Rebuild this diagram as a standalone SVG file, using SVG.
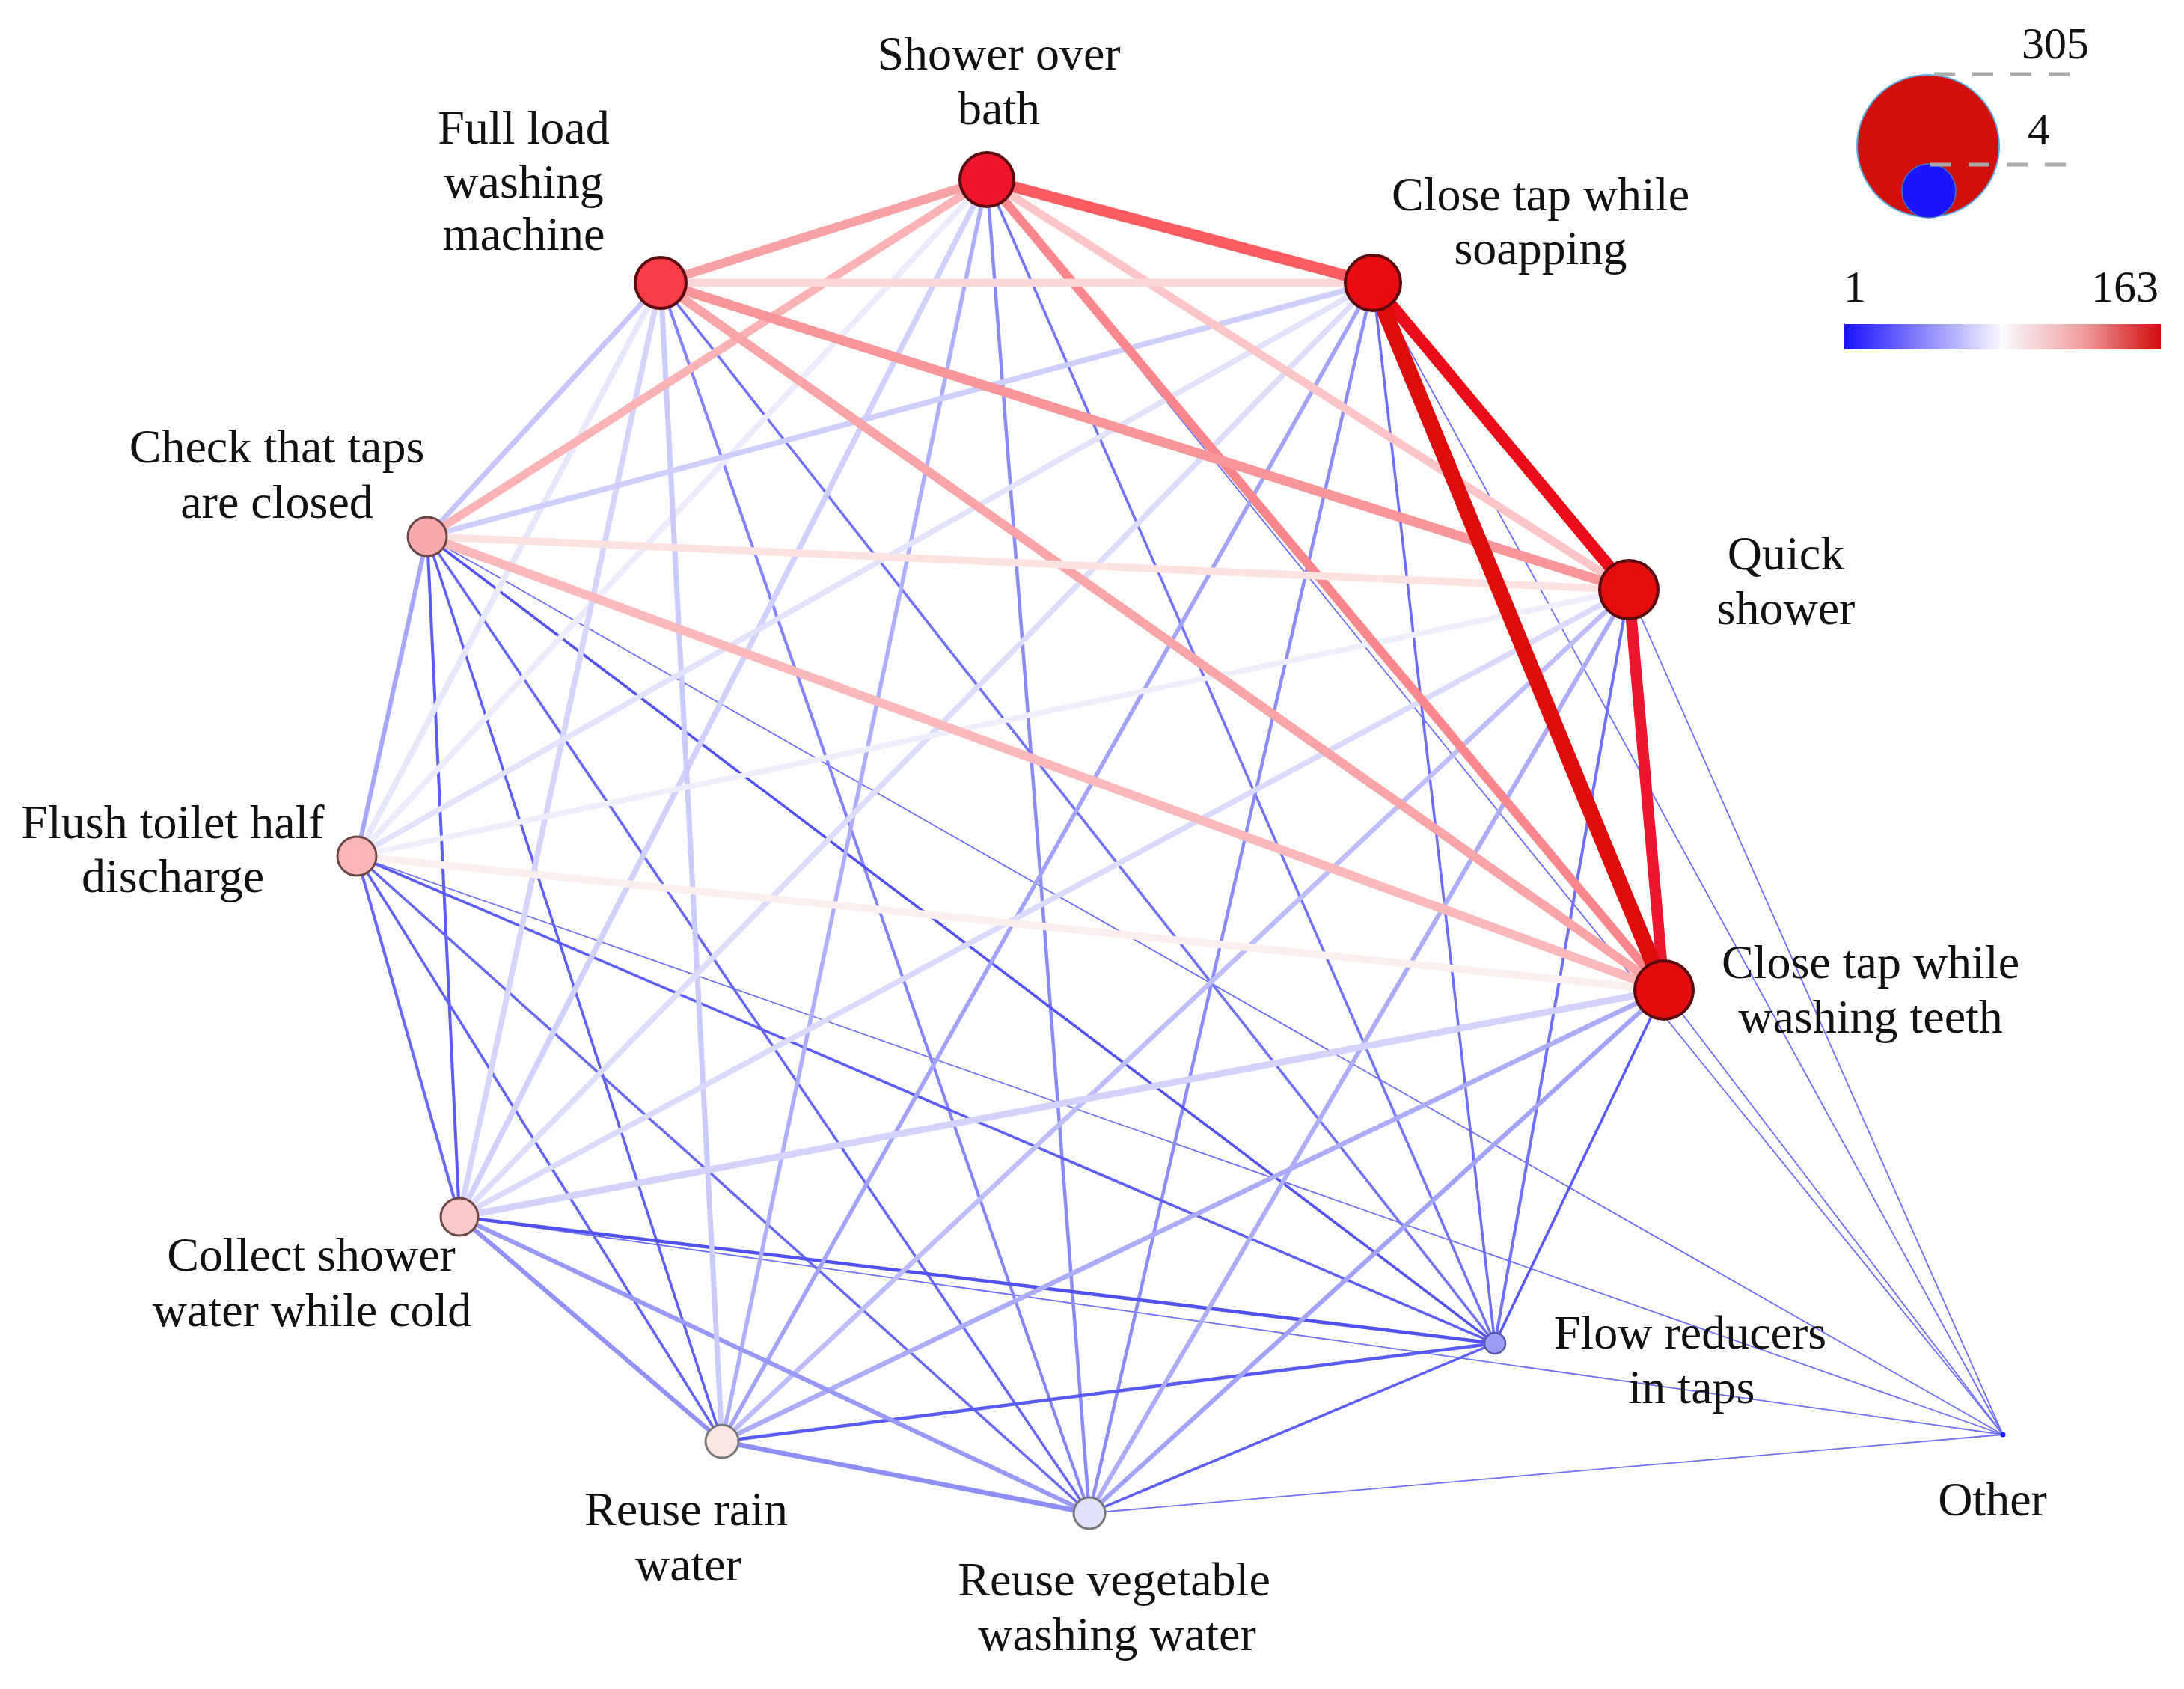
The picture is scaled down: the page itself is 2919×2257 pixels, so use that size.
<svg xmlns="http://www.w3.org/2000/svg" width="2919" height="2257" viewBox="0 0 2919 2257">
<defs>
<linearGradient id="scale" x1="0" y1="0" x2="1" y2="0">
<stop offset="0" stop-color="#1a12ff"/>
<stop offset="0.25" stop-color="#8a86fb"/>
<stop offset="0.5" stop-color="#fbfaff"/>
<stop offset="0.75" stop-color="#f1a0a0"/>
<stop offset="1" stop-color="#d20c0c"/>
</linearGradient>
<style>
.lbl{font-family:"Liberation Serif","Times New Roman",serif;font-size:64px;fill:#111;text-anchor:middle}
.num{font-family:"Liberation Serif","Times New Roman",serif;font-size:60px;fill:#111}
#edges line{fill:none;stroke-linecap:butt}
.red{stroke:#5c0a0e;stroke-width:4}
.pink{stroke:#6e4646;stroke-width:3}
.pale{stroke:#777;stroke-width:3}
.dash{stroke:#aaaaaa;stroke-width:5;stroke-dasharray:28 23}
</style>
</defs>
<rect width="2919" height="2257" fill="#ffffff"/>

<g id="edges">
<!-- Other links -->
<g stroke="#6e6eff" stroke-width="1.8">
<line x1="1319" y1="240" x2="2677" y2="1917"/>
<line x1="1835" y1="378" x2="2677" y2="1917"/>
<line x1="571" y1="717" x2="2677" y2="1917"/>
<line x1="2177" y1="788" x2="2677" y2="1917"/>
<line x1="477" y1="1144" x2="2677" y2="1917"/>
<line x1="2224" y1="1323" x2="2677" y2="1917"/>
<line x1="614" y1="1626" x2="2677" y2="1917"/>
<line x1="1456" y1="2022" x2="2677" y2="1917"/>
</g>
<!-- blue -->
<line x1="1319" y1="240" x2="1998" y2="1795" stroke="#7272f8" stroke-width="3.5"/>
<line x1="1319" y1="240" x2="1456" y2="2022" stroke="#8a8af8" stroke-width="4.5"/>
<line x1="883" y1="378" x2="1998" y2="1795" stroke="#7070f8" stroke-width="3.5"/>
<line x1="883" y1="378" x2="1456" y2="2022" stroke="#8484f8" stroke-width="4"/>
<line x1="1835" y1="378" x2="1998" y2="1795" stroke="#6c6cf8" stroke-width="3.5"/>
<line x1="1835" y1="378" x2="1456" y2="2022" stroke="#8c8cf8" stroke-width="4.5"/>
<line x1="571" y1="717" x2="614" y2="1626" stroke="#5c5cf6" stroke-width="4"/>
<line x1="571" y1="717" x2="1998" y2="1795" stroke="#5050f4" stroke-width="3.5"/>
<line x1="571" y1="717" x2="965" y2="1926" stroke="#5e5ef6" stroke-width="3.5"/>
<line x1="571" y1="717" x2="1456" y2="2022" stroke="#6666f6" stroke-width="3.5"/>
<line x1="2177" y1="788" x2="1998" y2="1795" stroke="#7070f8" stroke-width="4"/>
<line x1="477" y1="1144" x2="614" y2="1626" stroke="#6a6af8" stroke-width="4"/>
<line x1="477" y1="1144" x2="1998" y2="1795" stroke="#5c5cf6" stroke-width="3.5"/>
<line x1="477" y1="1144" x2="965" y2="1926" stroke="#6262f6" stroke-width="3.5"/>
<line x1="477" y1="1144" x2="1456" y2="2022" stroke="#6868f6" stroke-width="3.5"/>
<line x1="2224" y1="1323" x2="1998" y2="1795" stroke="#5858f6" stroke-width="3.5"/>
<line x1="614" y1="1626" x2="1998" y2="1795" stroke="#5252f4" stroke-width="4.5"/>
<line x1="965" y1="1926" x2="1998" y2="1795" stroke="#5a5af6" stroke-width="4.5"/>
<line x1="1456" y1="2022" x2="1998" y2="1795" stroke="#5c5cf6" stroke-width="3.5"/>
<!-- mid lavender-blue -->
<line x1="1319" y1="240" x2="965" y2="1926" stroke="#aeaefb" stroke-width="5.5"/>
<line x1="1835" y1="378" x2="965" y2="1926" stroke="#a2a2fa" stroke-width="5.5"/>
<line x1="571" y1="717" x2="477" y2="1144" stroke="#a6a6fa" stroke-width="6"/>
<line x1="2177" y1="788" x2="965" y2="1926" stroke="#bdbdfb" stroke-width="6.5"/>
<line x1="2177" y1="788" x2="1456" y2="2022" stroke="#acacfa" stroke-width="6"/>
<line x1="2224" y1="1323" x2="965" y2="1926" stroke="#acacfa" stroke-width="6.5"/>
<line x1="2224" y1="1323" x2="1456" y2="2022" stroke="#a2a2fa" stroke-width="6"/>
<line x1="614" y1="1626" x2="965" y2="1926" stroke="#9090f8" stroke-width="6"/>
<line x1="614" y1="1626" x2="1456" y2="2022" stroke="#9898f8" stroke-width="6"/>
<line x1="965" y1="1926" x2="1456" y2="2022" stroke="#8e8ef8" stroke-width="6.5"/>
<!-- light lavender -->
<line x1="1319" y1="240" x2="477" y2="1144" stroke="#ececfd" stroke-width="8"/>
<line x1="1319" y1="240" x2="614" y2="1626" stroke="#d0d0fc" stroke-width="7.5"/>
<line x1="883" y1="378" x2="571" y2="717" stroke="#c4c4fb" stroke-width="7"/>
<line x1="883" y1="378" x2="477" y2="1144" stroke="#e8e8fd" stroke-width="8"/>
<line x1="883" y1="378" x2="614" y2="1626" stroke="#d4d4fc" stroke-width="7.5"/>
<line x1="883" y1="378" x2="965" y2="1926" stroke="#cacafc" stroke-width="7"/>
<line x1="1835" y1="378" x2="571" y2="717" stroke="#cecefc" stroke-width="7.5"/>
<line x1="1835" y1="378" x2="477" y2="1144" stroke="#e2e2fd" stroke-width="7.5"/>
<line x1="1835" y1="378" x2="614" y2="1626" stroke="#dcdcfd" stroke-width="7.5"/>
<line x1="2177" y1="788" x2="477" y2="1144" stroke="#eeeefd" stroke-width="7.5"/>
<line x1="2177" y1="788" x2="614" y2="1626" stroke="#dadafd" stroke-width="7.5"/>
<line x1="2224" y1="1323" x2="614" y2="1626" stroke="#d2d2fc" stroke-width="9"/>
<!-- pinks -->
<line x1="1319" y1="240" x2="883" y2="378" stroke="#f9a2a5" stroke-width="12"/>
<line x1="1319" y1="240" x2="571" y2="717" stroke="#fbb2b4" stroke-width="11"/>
<line x1="1319" y1="240" x2="2177" y2="788" stroke="#fcc4c6" stroke-width="11"/>
<line x1="1319" y1="240" x2="2224" y2="1323" stroke="#f8868a" stroke-width="12"/>
<line x1="883" y1="378" x2="1835" y2="378" stroke="#fdd6d8" stroke-width="11"/>
<line x1="883" y1="378" x2="2177" y2="788" stroke="#f89699" stroke-width="13"/>
<line x1="883" y1="378" x2="2224" y2="1323" stroke="#f9a4a7" stroke-width="12"/>
<line x1="571" y1="717" x2="2177" y2="788" stroke="#fde2e2" stroke-width="10"/>
<line x1="571" y1="717" x2="2224" y2="1323" stroke="#fbb8ba" stroke-width="12"/>
<line x1="477" y1="1144" x2="2224" y2="1323" stroke="#fcf0ee" stroke-width="10"/>
<!-- reds -->
<line x1="1319" y1="240" x2="1835" y2="378" stroke="#fa5c62" stroke-width="15"/>
<line x1="1835" y1="378" x2="2177" y2="788" stroke="#ea0c16" stroke-width="16"/>
<line x1="2177" y1="788" x2="2224" y2="1323" stroke="#ee1530" stroke-width="15"/>
<line x1="1835" y1="378" x2="2224" y2="1323" stroke="#e00c0c" stroke-width="21"/>
</g>

<g id="n-shower-over-bath">
<circle cx="1319" cy="240" r="36" fill="#f0162a" class="red"/>
<text class="lbl" x="1335" y="93">Shower over</text>
<text class="lbl" x="1335" y="166">bath</text>
</g>
<g id="n-full-load-washing-machine">
<circle cx="883" cy="378" r="34" fill="#f83c46" class="red"/>
<text class="lbl" x="700" y="192">Full load</text>
<text class="lbl" x="700" y="264">washing</text>
<text class="lbl" x="700" y="334">machine</text>
</g>
<g id="n-close-tap-while-soapping">
<circle cx="1835" cy="378" r="37" fill="#e80c12" class="red"/>
<text class="lbl" x="2059" y="281">Close tap while</text>
<text class="lbl" x="2059" y="353">soapping</text>
</g>
<g id="n-check-that-taps-are-closed">
<circle cx="571" cy="717" r="26" fill="#f9a9ab" class="pink"/>
<text class="lbl" x="370" y="618">Check that taps</text>
<text class="lbl" x="370" y="692">are closed</text>
</g>
<g id="n-quick-shower">
<circle cx="2177" cy="788" r="39" fill="#e50c0c" class="red"/>
<text class="lbl" x="2387" y="761">Quick</text>
<text class="lbl" x="2387" y="834">shower</text>
</g>
<g id="n-flush-toilet-half-discharge">
<circle cx="477" cy="1144" r="26" fill="#f9b6b6" class="pink"/>
<text class="lbl" x="231" y="1120">Flush toilet half</text>
<text class="lbl" x="231" y="1192">discharge</text>
</g>
<g id="n-close-tap-while-washing-teeth">
<circle cx="2224" cy="1323" r="39" fill="#e20c0c" class="red"/>
<text class="lbl" x="2500" y="1307">Close tap while</text>
<text class="lbl" x="2500" y="1380">washing teeth</text>
</g>
<g id="n-collect-shower-water-while-cold">
<circle cx="614" cy="1626" r="25" fill="#fbc8c8" class="pink"/>
<text class="lbl" x="416" y="1698">Collect shower</text>
<text class="lbl" x="417" y="1772">water while cold</text>
</g>
<g id="n-flow-reducers-in-taps">
<circle cx="1998" cy="1795" r="14" fill="#9c9cf4" stroke="#5858a8" stroke-width="2.5"/>
<text class="lbl" x="2259" y="1802">Flow reducers</text>
<text class="lbl" x="2261" y="1875">in taps</text>
</g>
<g id="n-reuse-rain-water">
<circle cx="965" cy="1926" r="22" fill="#fce6e4" class="pale"/>
<text class="lbl" x="917" y="2038">Reuse rain</text>
<text class="lbl" x="920" y="2112">water</text>
</g>
<g id="n-reuse-vegetable-washing-water">
<circle cx="1456" cy="2022" r="21" fill="#e2e2fb" class="pale"/>
<text class="lbl" x="1489" y="2132">Reuse vegetable</text>
<text class="lbl" x="1493" y="2205">washing water</text>
</g>
<g id="n-other">
<circle cx="2677" cy="1917" r="3.5" fill="#2020ff"/>
<text class="lbl" x="2663" y="2025">Other</text>
</g>

<g id="legend">
<circle cx="2577" cy="195" r="95" fill="#d10f0c" stroke="#5aa8e0" stroke-width="2"/>
<circle cx="2578" cy="255" r="36" fill="#1a14ff" stroke="#3a78c8" stroke-width="1.5"/>
<line class="dash" x1="2585" y1="99" x2="2770" y2="99"/>
<line class="dash" x1="2580" y1="220" x2="2765" y2="220"/>
<text class="num" x="2702" y="78">305</text>
<text class="num" x="2710" y="193">4</text>
<text class="num" x="2464" y="403">1</text>
<text class="num" x="2885" y="403" text-anchor="end">163</text>
<rect x="2465" y="433" width="423" height="34" fill="url(#scale)"/>
</g>
</svg>
